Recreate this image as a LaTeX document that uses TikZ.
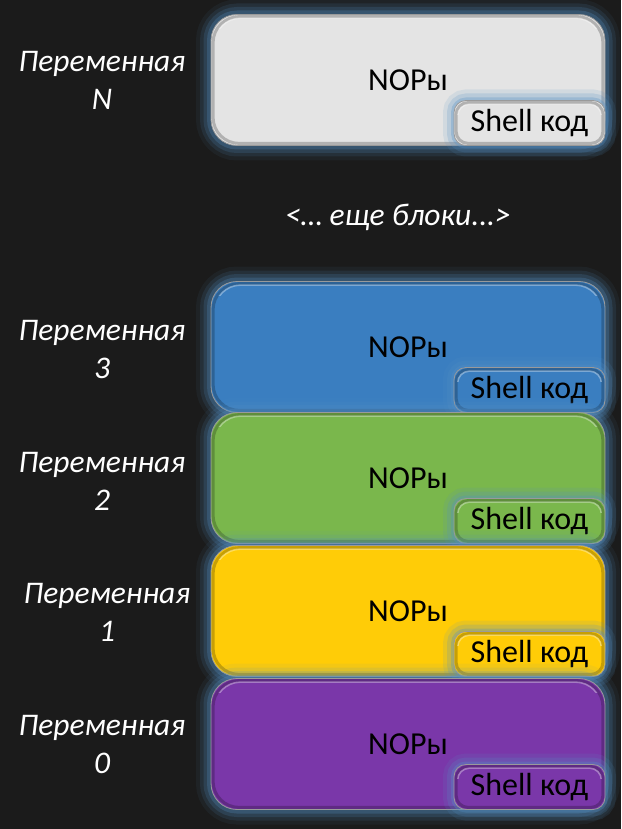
\documentclass[tikz,border=0pt]{standalone}
\usepackage{fontspec}
\setmainfont{Carlito}
\definecolor{bgc}{HTML}{1B1B1B}
\definecolor{glowc}{HTML}{5590C4}
\definecolor{edgec}{HTML}{9A9A9A}
\definecolor{grayc}{HTML}{E4E4E4}
\definecolor{bluec}{HTML}{3A7EC0}
\definecolor{greenc}{HTML}{7AB74C}
\definecolor{yellowc}{HTML}{FFCC07}
\definecolor{purplec}{HTML}{7A37A9}
\newcommand\bevelit[2]{%
  \draw[black, draw opacity=0.22, line width=3pt, rounded corners=#2]
    ([shift={(2.5,2.5)}]#1.north west) rectangle ([shift={(-2.5,-2.5)}]#1.south east);
  \begin{scope}
    \clip (#1.north west) rectangle ([shift={(0,14)}]#1.north east);
    \draw[white, draw opacity=0.35, line width=1.6pt, rounded corners=#2]
      ([shift={(4,4)}]#1.north west) rectangle ([shift={(-4,-4)}]#1.south east);
  \end{scope}}
\begin{document}
\begin{tikzpicture}[x=1pt,y=-1pt,
  txt/.style={font=\fontsize{32}{38}\selectfont, text=black},
  lbl/.style={font=\fontsize{31.5}{38}\selectfont\itshape, text=white, align=center},
  bigbox/.style={rectangle, rounded corners=26pt, minimum width=394pt, minimum height=131pt,
    inner sep=0pt, draw=edgec, line width=0.8pt, fill=#1, txt,
    preaction={draw=glowc, line width=30pt, draw opacity=0.07},
    preaction={draw=glowc, line width=22pt, draw opacity=0.12},
    preaction={draw=glowc, line width=15pt, draw opacity=0.18},
    preaction={draw=glowc, line width=8pt, draw opacity=0.26}},
  shellbox/.style={rectangle, rounded corners=12pt, minimum width=151pt, minimum height=45pt,
    inner sep=0pt, draw=edgec, line width=0.8pt, fill=#1, txt, anchor=south east,
    preaction={draw=glowc, line width=22pt, draw opacity=0.13},
    preaction={draw=glowc, line width=14pt, draw opacity=0.2},
    preaction={draw=glowc, line width=6pt, draw opacity=0.3}}]
\fill[bgc] (0,0) rectangle (621,829);
\useasboundingbox (0,0) rectangle (621,829);

% Variable N
\node[bigbox=grayc] (bN) at (408,80) {NOPы};
\bevelit{bN}{26}
\node[shellbox=grayc] (sN) at (bN.south east) {Shell код};
\bevelit{sN}{12}
\node[lbl] (lN) at (102,80) {Переменная\\N};

\node[lbl] (more) at (398,217) {<… еще блоки...>};

% Variable 3
\node[bigbox=bluec] (b3) at (408,347) {NOPы};
\bevelit{b3}{26}
\node[shellbox=bluec] (s3) at (b3.south east) {Shell код};
\bevelit{s3}{12}
\node[lbl] (l3) at (102,349) {Переменная\\3};

% Variable 2
\node[bigbox=greenc] (b2) at (408,478) {NOPы};
\bevelit{b2}{26}
\node[shellbox=greenc] (s2) at (b2.south east) {Shell код};
\bevelit{s2}{12}
\node[lbl] (l2) at (102,481) {Переменная\\2};

% Variable 1
\node[bigbox=yellowc] (b1) at (408,611) {NOPы};
\bevelit{b1}{26}
\node[shellbox=yellowc] (s1) at (b1.south east) {Shell код};
\bevelit{s1}{12}
\node[lbl] (l1) at (107,612) {Переменная\\1};

% Variable 0
\node[bigbox=purplec] (b0) at (408,744) {NOPы};
\bevelit{b0}{26}
\node[shellbox=purplec] (s0) at (b0.south east) {Shell код};
\bevelit{s0}{12}
\node[lbl] (l0) at (102,744) {Переменная\\0};
\end{tikzpicture}
\end{document}
